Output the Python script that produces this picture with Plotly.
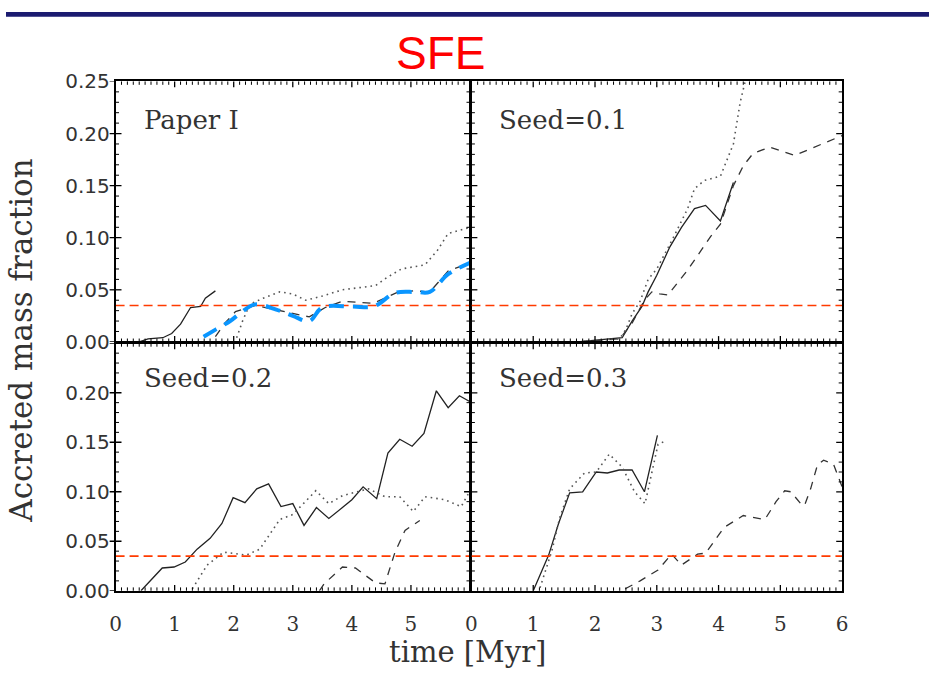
import plotly.graph_objects as go

W, H = 935, 678

# ---- axis ranges and ticks --------------------------------------------------
t_range = [0, 6]
frac_range = [0, 0.25]
t_major, t_minor = 1, 0.1
frac_major, frac_minor = 0.05, 0.01

sfe_threshold = 0.035
panel_names = ["Paper I", "Seed=0.1", "Seed=0.2", "Seed=0.3"]

# ---- Paper I ----------------------------------------------------------------
p1_solid_t = [0.40, 0.55, 0.80, 0.95, 1.10, 1.27, 1.44, 1.52, 1.69]
p1_solid_v = [0.000, 0.003, 0.004, 0.008, 0.017, 0.033, 0.034, 0.042, 0.049]
p1_dash_t = [1.69, 1.85, 2.03, 2.37, 2.70, 3.28, 3.55, 3.84, 4.36, 4.75, 5.05, 5.32, 5.63, 6.00]
p1_dash_v = [0.005, 0.018, 0.029, 0.035, 0.031, 0.024, 0.033, 0.039, 0.037, 0.047, 0.049, 0.048, 0.068, 0.076]
p1_dot_t = [2.05, 2.15, 2.27, 2.50, 2.78, 3.00, 3.22, 3.50, 3.84, 4.10, 4.40, 4.60, 4.84, 5.24, 5.45, 5.63, 6.00]
p1_dot_v = [0.004, 0.020, 0.036, 0.042, 0.048, 0.046, 0.040, 0.044, 0.050, 0.052, 0.054, 0.062, 0.070, 0.074, 0.088, 0.104, 0.110]
p1_fit_t = [1.49, 1.70, 1.94, 2.10, 2.36, 2.72, 3.00, 3.28, 3.50, 4.00, 4.37, 4.73, 5.07, 5.32, 5.63, 6.00]
p1_fit_v = [0.005, 0.012, 0.020, 0.027, 0.036, 0.031, 0.025, 0.020, 0.033, 0.034, 0.034, 0.047, 0.048, 0.048, 0.065, 0.076]

# ---- Seed = 0.1 -------------------------------------------------------------
s1_solid_t = [1.72, 2.10, 2.44, 2.60, 2.76, 2.86, 3.00, 3.21, 3.40, 3.61, 3.79, 4.03, 4.24]
s1_solid_v = [0.000, 0.002, 0.004, 0.020, 0.034, 0.048, 0.064, 0.091, 0.110, 0.128, 0.131, 0.116, 0.153]
s1_dash_t = [1.75, 2.40, 2.60, 2.80, 2.92, 3.05, 3.18, 3.50, 3.87, 4.03, 4.24, 4.40, 4.56, 4.83, 5.23, 5.60, 6.00]
s1_dash_v = [0.000, 0.003, 0.018, 0.040, 0.048, 0.046, 0.045, 0.069, 0.101, 0.113, 0.150, 0.169, 0.181, 0.187, 0.179, 0.188, 0.198]
s1_dot_t = [1.72, 2.40, 2.50, 2.60, 2.73, 2.80, 2.86, 3.00, 3.25, 3.50, 3.61, 3.77, 4.03, 4.24, 4.35, 4.43]
s1_dot_v = [0.000, 0.003, 0.012, 0.027, 0.039, 0.051, 0.060, 0.070, 0.098, 0.128, 0.147, 0.155, 0.159, 0.190, 0.230, 0.250]

# ---- Seed = 0.2 -------------------------------------------------------------
s2_solid_t = [0.43, 0.54, 0.79, 0.99, 1.18, 1.38, 1.60, 1.80, 1.99, 2.19, 2.39, 2.59, 2.80, 3.00,
              3.19, 3.40, 3.61, 3.84, 4.00, 4.19, 4.42, 4.61, 4.81, 5.02, 5.22, 5.43, 5.63, 5.82, 6.00]
s2_solid_v = [0.000, 0.007, 0.023, 0.024, 0.029, 0.042, 0.053, 0.068, 0.094, 0.089, 0.103, 0.108, 0.085, 0.088,
              0.066, 0.084, 0.073, 0.084, 0.092, 0.105, 0.093, 0.139, 0.153, 0.146, 0.159, 0.202, 0.185, 0.197, 0.191]
s2_dash_t = [3.45, 3.53, 3.84, 4.06, 4.40, 4.56, 4.73, 4.90, 5.15]
s2_dash_v = [0.000, 0.007, 0.024, 0.023, 0.008, 0.007, 0.039, 0.061, 0.071]
s2_dot_t = [1.30, 1.55, 1.83, 2.21, 2.44, 2.78, 3.00, 3.39, 3.61, 3.84, 4.28, 4.56, 4.81, 5.04, 5.24, 5.57, 5.85, 6.00]
s2_dot_v = [0.002, 0.026, 0.039, 0.036, 0.042, 0.072, 0.077, 0.101, 0.088, 0.096, 0.103, 0.095, 0.095, 0.080, 0.095, 0.092, 0.085, 0.101]

# ---- Seed = 0.3 -------------------------------------------------------------
s3_solid_t = [1.00, 1.25, 1.41, 1.59, 1.80, 2.02, 2.20, 2.39, 2.60, 2.80, 3.01]
s3_solid_v = [0.000, 0.036, 0.068, 0.099, 0.100, 0.120, 0.119, 0.122, 0.122, 0.100, 0.157]
s3_dash_t = [2.49, 2.73, 3.02, 3.24, 3.40, 3.66, 3.79, 4.09, 4.40, 4.75, 4.93, 5.07, 5.17, 5.33, 5.39, 5.49, 5.60, 5.70, 5.86, 6.00]
s3_dash_v = [0.002, 0.010, 0.021, 0.037, 0.026, 0.037, 0.038, 0.064, 0.076, 0.072, 0.090, 0.101, 0.100, 0.088, 0.086, 0.103, 0.127, 0.132, 0.128, 0.105]
s3_dot_t = [1.11, 1.30, 1.43, 1.59, 1.83, 2.02, 2.23, 2.44, 2.64, 2.81, 3.02, 3.13]
s3_dot_v = [0.003, 0.040, 0.074, 0.103, 0.119, 0.120, 0.138, 0.125, 0.100, 0.088, 0.148, 0.151]

# ---- styles -----------------------------------------------------------------
SOLID = dict(color="#222222", width=1.3)
DASH = dict(color="#333333", width=1.3, dash="8px,7px")
DOT = dict(color="#555555", width=1.6, dash="1.6px,4px")
FIT = dict(color="#0a96ff", width=4, dash="15px,9px", shape="spline")
THRESH = dict(color="#ff3b00", width=1.6, dash="9px,5px")

SERIF = "DejaVu Serif"
SANS = "DejaVu Sans"
LW = 1.5          # frame line width
MAJOR_LEN = 6     # tick lengths in px
MINOR_LEN = 3.5


def fx(p):
    return p / W


def fy(p):
    return 1 - p / H


# panel boxes in pixels: (left, right, top, bottom)
box_left_x = (111, 470)
box_right_x = (470 + LW, 847)
box_top_y = (72, 342)
box_bottom_y = (342 + LW, 600)

panels = [
    ("x", "y", box_left_x, box_top_y,
     [(p1_solid_t, p1_solid_v, SOLID), (p1_dash_t, p1_dash_v, DASH), (p1_dot_t, p1_dot_v, DOT)]),
    ("x2", "y2", box_right_x, box_top_y,
     [(s1_solid_t, s1_solid_v, SOLID), (s1_dash_t, s1_dash_v, DASH), (s1_dot_t, s1_dot_v, DOT)]),
    ("x3", "y3", box_left_x, box_bottom_y,
     [(s2_solid_t, s2_solid_v, SOLID), (s2_dash_t, s2_dash_v, DASH), (s2_dot_t, s2_dot_v, DOT)]),
    ("x4", "y4", box_right_x, box_bottom_y,
     [(s3_solid_t, s3_solid_v, SOLID), (s3_dash_t, s3_dash_v, DASH), (s3_dot_t, s3_dot_v, DOT)]),
]

fig = go.Figure()
for xa, ya, _, _, curves in panels:
    for t, v, style in curves:
        fig.add_trace(go.Scatter(x=t, y=v, mode="lines", line=style,
                                 xaxis=xa, yaxis=ya, showlegend=False, hoverinfo="skip"))
    fig.add_trace(go.Scatter(x=t_range, y=[sfe_threshold, sfe_threshold],
                             mode="lines", line=THRESH, xaxis=xa, yaxis=ya,
                             showlegend=False, hoverinfo="skip"))
    if xa == "x":
        fig.add_trace(go.Scatter(x=p1_fit_t, y=p1_fit_v, mode="lines", line=FIT,
                                 xaxis=xa, yaxis=ya, showlegend=False, hoverinfo="skip"))


def frame_x(box_x, anchor, labels=False, hide_last=False):
    rng = [t_range[0], t_range[1] - 0.001] if hide_last else list(t_range)
    ax = dict(domain=[fx(box_x[0]), fx(box_x[1])], anchor=anchor, range=rng,
              showgrid=False, zeroline=False, showline=True, linecolor="black",
              linewidth=LW, mirror=True, ticks="", tickmode="linear", tick0=0,
              dtick=t_major, showticklabels=labels)
    if labels:
        # clear outward ticks just set the gap between the frame and the numbers
        ax.update(ticks="outside", ticklen=14, tickcolor="rgba(0,0,0,0)",
                  tickfont=dict(family=SERIF, size=20, color="#333333"))
    return ax


def frame_y(box_y, anchor, labels=False, hide_last=False):
    rng = [frac_range[0], frac_range[1] - 0.0001] if hide_last else list(frac_range)
    ax = dict(domain=[fy(box_y[1]), fy(box_y[0])], anchor=anchor, range=rng,
              showgrid=False, zeroline=False, showline=True, linecolor="black",
              linewidth=LW, mirror=True, ticks="", tickmode="linear", tick0=0,
              dtick=frac_major, tickformat=".2f", showticklabels=labels)
    if labels:
        ax["tickfont"] = dict(family=SANS, size=20, color="#333333")
    return ax


fig.update_layout(
    width=W, height=H, margin=dict(l=0, r=0, t=0, b=0),
    paper_bgcolor="white", plot_bgcolor="white", showlegend=False,
    xaxis=frame_x(box_left_x, "y"), yaxis=frame_y(box_top_y, "x", labels=True),
    xaxis2=frame_x(box_right_x, "y2"), yaxis2=frame_y(box_top_y, "x2"),
    xaxis3=frame_x(box_left_x, "y3", labels=True, hide_last=True),
    yaxis3=frame_y(box_bottom_y, "x3", labels=True, hide_last=True),
    xaxis4=frame_x(box_right_x, "y4", labels=True), yaxis4=frame_y(box_bottom_y, "x4"),
)

# ---- inward tick marks on all four edges of every panel ---------------------
shapes = []
n_t = int(round((t_range[1] - t_range[0]) / t_minor))
n_f = int(round((frac_range[1] - frac_range[0]) / frac_minor))
t_per_major = int(round(t_major / t_minor))
f_per_major = int(round(frac_major / frac_minor))
for xa, ya, bx, by, _ in panels:
    w_px = bx[1] - bx[0]
    h_px = by[1] - by[0]
    for i in range(1, n_t):
        t = t_range[0] + i * t_minor
        major = i % t_per_major == 0
        frac = (MAJOR_LEN if major else MINOR_LEN) / h_px
        width = 1.3 if major else 1
        for y0, y1 in ((0, frac), (1, 1 - frac)):
            shapes.append(dict(type="line", xref=xa, yref=ya + " domain", x0=t, x1=t, y0=y0, y1=y1,
                               line=dict(color="black", width=width), layer="above"))
    for j in range(1, n_f):
        v = frac_range[0] + j * frac_minor
        major = j % f_per_major == 0
        frac = (MAJOR_LEN if major else MINOR_LEN) / w_px
        width = 1.3 if major else 1
        for x0, x1 in ((0, frac), (1, 1 - frac)):
            shapes.append(dict(type="line", xref=xa + " domain", yref=ya, x0=x0, x1=x1, y0=v, y1=v,
                               line=dict(color="black", width=width), layer="above"))
    # short outward stubs of the major ticks on the outer left frame
    if bx[0] == box_left_x[0]:
        for j in range(0, n_f + 1, f_per_major):
            v = frac_range[0] + j * frac_minor
            shapes.append(dict(type="line", xref="paper", yref=ya, x0=fx(bx[0] - 6), x1=fx(bx[0]),
                               y0=v, y1=v, line=dict(color="black", width=1.3), layer="above"))

# navy strip along the top edge
shapes.append(dict(type="rect", xref="paper", yref="paper", x0=0, x1=1, y0=fy(5), y1=1,
                   fillcolor="#1b1b70", line=dict(width=0), layer="above"))
fig.update_layout(shapes=shapes)

label_font = dict(family=SERIF, size=26, color="#333333")
annotations = [
    dict(text="SFE", x=fx(440), y=fy(42), font=dict(family="Liberation Sans", size=46, color="#ff0000"),
         xanchor="center", yanchor="middle"),
    dict(text=panel_names[0], x=fx(138), y=fy(112), font=label_font, xanchor="left", yanchor="middle"),
    dict(text=panel_names[1], x=fx(497), y=fy(112), font=label_font, xanchor="left", yanchor="middle"),
    dict(text=panel_names[2], x=fx(138), y=fy(379), font=label_font, xanchor="left", yanchor="middle"),
    dict(text=panel_names[3], x=fx(497), y=fy(379), font=label_font, xanchor="left", yanchor="middle"),
    dict(text="Accreted mass fraction", x=fx(15), y=fy(341), textangle=-90,
         font=dict(family=SERIF, size=31, color="#333333"), xanchor="center", yanchor="middle"),
    dict(text="time [Myr]", x=fx(468), y=fy(664),
         font=dict(family=SERIF, size=29, color="#333333"), xanchor="center", yanchor="middle"),
]
for a in annotations:
    a.update(xref="paper", yref="paper", showarrow=False)
fig.update_layout(annotations=annotations)

fig.write_html("out.html")
